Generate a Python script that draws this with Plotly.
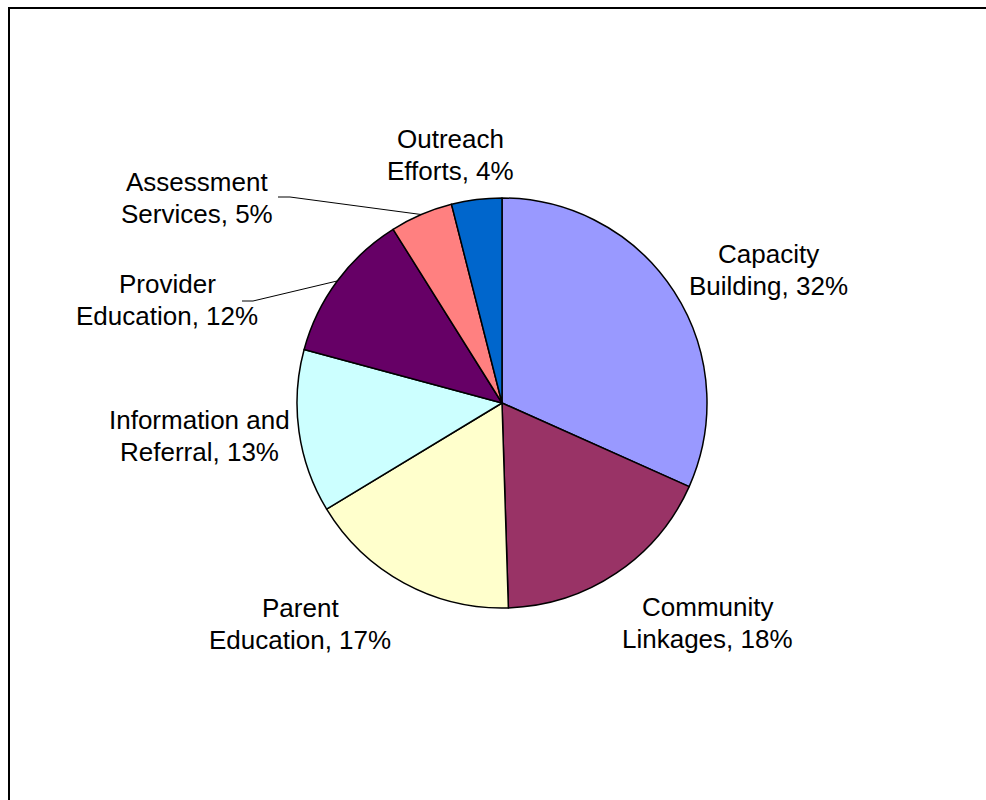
import math
import plotly.graph_objects as go

# Share of activities (percent), clockwise from 12 o'clock
categories = [
    "Capacity Building",
    "Community Linkages",
    "Parent Education",
    "Information and Referral",
    "Provider Education",
    "Assessment Services",
    "Outreach Efforts",
]
values = [32, 18, 17, 13, 12, 5, 4]
label_lines = [
    ("Capacity", "Building"),
    ("Community", "Linkages"),
    ("Parent", "Education"),
    ("Information and", "Referral"),
    ("Provider", "Education"),
    ("Assessment", "Services"),
    ("Outreach", "Efforts"),
]
colors = ["#9999FF", "#993366", "#FFFFCC", "#CCFFFF", "#660066", "#FF8080", "#0066CC"]

W, H = 986, 800
CX, CY, R = 502, 403, 205          # pie centre and radius in pixels
LINE_GAP = 32                      # distance between the two label lines
FONT = dict(family="Liberation Sans, Arial, sans-serif", size=26, color="#000000")

# label block centres (pixels) and optional leader-line start points
label_pos = [(768, 270), (707, 623), (300, 624), (199, 436), (167, 300), (197, 198), (450, 155)]
leader_start = {4: [(242, 301), (253, 301)], 5: [(278, 197), (290, 197)]}


def px(x):
    return x / W


def py(y):
    return 1 - y / H


fig = go.Figure(
    go.Pie(
        labels=categories,
        values=values,
        sort=False,
        direction="clockwise",
        rotation=0,
        marker=dict(colors=colors, line=dict(color="#000000", width=1.5)),
        textinfo="none",
        hoverinfo="label+value",
        showlegend=False,
        domain=dict(x=[px(CX - R), px(CX + R)], y=[py(CY + R), py(CY - R)]),
    )
)

total = sum(values)
cum = 0
annotations = []
shapes = []
for i, (v, (l1, l2)) in enumerate(zip(values, label_lines)):
    mid = (cum + v / 2) / total * 2 * math.pi
    cum += v
    lx, ly = label_pos[i]
    for text, dy in ((l1, -LINE_GAP / 2), (f"{l2}, {v}%", LINE_GAP / 2)):
        annotations.append(
            dict(
                x=px(lx), y=py(ly + dy), xref="paper", yref="paper",
                text=text, showarrow=False,
                xanchor="center", yanchor="middle", font=FONT,
            )
        )
    if i in leader_start:
        ex = CX + R * math.sin(mid)
        ey = CY - R * math.cos(mid)
        pts = leader_start[i] + [(ex, ey)]
        path = "M " + " L ".join(f"{px(x)},{py(y)}" for x, y in pts)
        shapes.append(
            dict(type="path", xref="paper", yref="paper", path=path,
                 line=dict(color="#000000", width=1))
        )

# chart frame (runs off the right and bottom edges)
shapes.append(
    dict(type="rect", xref="paper", yref="paper",
         x0=px(9), y0=-0.05, x1=1.05, y1=py(8),
         line=dict(color="#000000", width=2), fillcolor="rgba(0,0,0,0)")
)

fig.update_layout(
    width=W, height=H,
    margin=dict(l=0, r=0, t=0, b=0),
    paper_bgcolor="#FFFFFF",
    plot_bgcolor="#FFFFFF",
    annotations=annotations,
    shapes=shapes,
)

fig.write_html("out.html")
